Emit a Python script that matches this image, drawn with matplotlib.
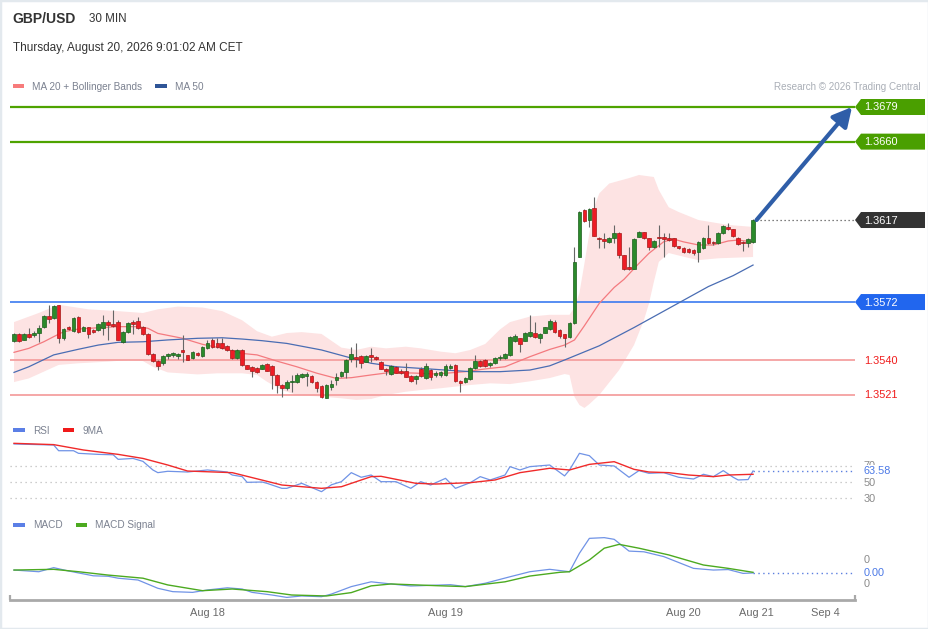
import numpy as np
import matplotlib
matplotlib.use("Agg")
import matplotlib.pyplot as plt
from matplotlib.patches import Rectangle, Polygon

plt.rcParams['font.family'] = ['Liberation Sans', 'DejaVu Sans']

# ---------------------------------------------------------------- data
symbol = "GBP/USD"
timeframe = "30 MIN"
timestamp = "Thursday, August 20, 2026 9:01:02 AM CET"
credit = "Research \u00a9 2026 Trading Central"

opens = [1.35506, 1.35543, 1.35512, 1.35543, 1.35539, 1.35548, 1.35585, 1.35645, 1.35630, 1.35704,
         1.35524, 1.35585, 1.35561, 1.35638, 1.35563, 1.35581, 1.35566, 1.35565, 1.35579, 1.35612,
         1.35601, 1.35612, 1.35502, 1.35554, 1.35609, 1.35616, 1.35585, 1.35543, 1.35437, 1.35396,
         1.35384, 1.35422, 1.35429, 1.35426, 1.35455, 1.35428, 1.35411, 1.35442, 1.35426, 1.35470,
         1.35510, 1.35497, 1.35493, 1.35479, 1.35457, 1.35415, 1.35455, 1.35373, 1.35365, 1.35358,
         1.35353, 1.35378, 1.35371, 1.35320, 1.35265, 1.35250, 1.35280, 1.35280, 1.35309, 1.35316,
         1.35314, 1.35280, 1.35261, 1.35195, 1.35256, 1.35292, 1.35316, 1.35334, 1.35407, 1.35418,
         1.35424, 1.35393, 1.35430, 1.35418, 1.35393, 1.35353, 1.35325, 1.35365, 1.35344, 1.35342,
         1.35314, 1.35296, 1.35351, 1.35305, 1.35347, 1.35320, 1.35320, 1.35320, 1.35356, 1.35375,
         1.35287, 1.35280, 1.35298, 1.35360, 1.35397, 1.35402, 1.35375, 1.35384, 1.35411, 1.35411,
         1.35430, 1.35508, 1.35521, 1.35508, 1.35536, 1.35548, 1.35521, 1.35552, 1.35570, 1.35612,
         1.35567, 1.35543, 1.35526, 1.35603, 1.35969, 1.36225, 1.36170, 1.36234, 1.36073, 1.36064,
         1.36051, 1.36073, 1.36100, 1.35978, 1.35910, 1.35903, 1.36079, 1.36102, 1.36069, 1.36020,
         1.36079, 1.36079, 1.36069, 1.36069, 1.36027, 1.36015, 1.36009, 1.36005, 1.35996, 1.36015,
         1.36073, 1.36051, 1.36042, 1.36100, 1.36133, 1.36119, 1.36073, 1.36051, 1.36042, 1.36051]

closes = [1.35543, 1.35506, 1.35543, 1.35530, 1.35552, 1.35579, 1.35645, 1.35627, 1.35700, 1.35524,
          1.35572, 1.35570, 1.35631, 1.35557, 1.35583, 1.35545, 1.35554, 1.35601, 1.35612, 1.35594,
          1.35590, 1.35512, 1.35554, 1.35603, 1.35601, 1.35576, 1.35543, 1.35437, 1.35396, 1.35371,
          1.35424, 1.35433, 1.35439, 1.35437, 1.35444, 1.35402, 1.35446, 1.35431, 1.35475, 1.35497,
          1.35475, 1.35475, 1.35470, 1.35457, 1.35415, 1.35457, 1.35375, 1.35353, 1.35342, 1.35334,
          1.35375, 1.35342, 1.35320, 1.35265, 1.35247, 1.35280, 1.35287, 1.35320, 1.35323, 1.35323,
          1.35280, 1.35247, 1.35201, 1.35265, 1.35270, 1.35311, 1.35334, 1.35402, 1.35433, 1.35407,
          1.35387, 1.35424, 1.35418, 1.35407, 1.35353, 1.35342, 1.35369, 1.35332, 1.35329, 1.35311,
          1.35287, 1.35316, 1.35316, 1.35369, 1.35311, 1.35332, 1.35334, 1.35371, 1.35371, 1.35287,
          1.35274, 1.35301, 1.35360, 1.35397, 1.35371, 1.35369, 1.35384, 1.35411, 1.35418, 1.35433,
          1.35530, 1.35536, 1.35490, 1.35552, 1.35557, 1.35530, 1.35545, 1.35581, 1.35618, 1.35557,
          1.35534, 1.35521, 1.35603, 1.35941, 1.36212, 1.36166, 1.36230, 1.36082, 1.36064, 1.36057,
          1.36073, 1.36097, 1.35978, 1.35899, 1.35899, 1.36064, 1.36106, 1.36069, 1.36024, 1.36057,
          1.36069, 1.36064, 1.36060, 1.36027, 1.36015, 1.35996, 1.35996, 1.35987, 1.36051, 1.36069,
          1.36042, 1.36042, 1.36100, 1.36137, 1.36119, 1.36082, 1.36038, 1.36042, 1.36064, 1.36170]

highs = [1.35550, 1.35550, 1.35550, 1.35576, 1.35560, 1.35594, 1.35650, 1.35704, 1.35704, 1.35706,
         1.35580, 1.35590, 1.35640, 1.35645, 1.35590, 1.35585, 1.35570, 1.35605, 1.35649, 1.35620,
         1.35676, 1.35620, 1.35560, 1.35610, 1.35621, 1.35640, 1.35590, 1.35550, 1.35440, 1.35400,
         1.35430, 1.35440, 1.35445, 1.35440, 1.35539, 1.35430, 1.35450, 1.35445, 1.35480, 1.35510,
         1.35520, 1.35520, 1.35520, 1.35485, 1.35460, 1.35460, 1.35460, 1.35375, 1.35370, 1.35365,
         1.35380, 1.35385, 1.35375, 1.35325, 1.35270, 1.35290, 1.35320, 1.35330, 1.35330, 1.35338,
         1.35320, 1.35285, 1.35265, 1.35270, 1.35292, 1.35329, 1.35340, 1.35405, 1.35475, 1.35493,
         1.35430, 1.35430, 1.35466, 1.35425, 1.35398, 1.35356, 1.35375, 1.35370, 1.35350, 1.35384,
         1.35318, 1.35320, 1.35365, 1.35385, 1.35350, 1.35340, 1.35340, 1.35380, 1.35380, 1.35380,
         1.35290, 1.35310, 1.35365, 1.35430, 1.35400, 1.35405, 1.35390, 1.35420, 1.35430, 1.35440,
         1.35535, 1.35545, 1.35525, 1.35555, 1.35649, 1.35612, 1.35550, 1.35585, 1.35625, 1.35620,
         1.35570, 1.35545, 1.35610, 1.36020, 1.36220, 1.36230, 1.36234, 1.36294, 1.36078, 1.36100,
         1.36078, 1.36143, 1.36105, 1.35980, 1.36024, 1.36070, 1.36110, 1.36106, 1.36073, 1.36060,
         1.36143, 1.36097, 1.36097, 1.36073, 1.36030, 1.36020, 1.36015, 1.36010, 1.36055, 1.36075,
         1.36143, 1.36055, 1.36105, 1.36140, 1.36152, 1.36123, 1.36078, 1.36055, 1.36070, 1.36175]

lows = [1.35500, 1.35500, 1.35510, 1.35525, 1.35530, 1.35500, 1.35580, 1.35603, 1.35625, 1.35493,
        1.35510, 1.35565, 1.35555, 1.35550, 1.35560, 1.35520, 1.35550, 1.35560, 1.35539, 1.35512,
        1.35585, 1.35510, 1.35495, 1.35550, 1.35543, 1.35570, 1.35540, 1.35430, 1.35390, 1.35347,
        1.35375, 1.35410, 1.35420, 1.35410, 1.35393, 1.35400, 1.35405, 1.35425, 1.35420, 1.35465,
        1.35470, 1.35470, 1.35465, 1.35450, 1.35410, 1.35410, 1.35370, 1.35350, 1.35310, 1.35330,
        1.35350, 1.35340, 1.35243, 1.35219, 1.35201, 1.35240, 1.35228, 1.35275, 1.35305, 1.35260,
        1.35275, 1.35225, 1.35195, 1.35192, 1.35237, 1.35265, 1.35310, 1.35301, 1.35393, 1.35365,
        1.35356, 1.35390, 1.35393, 1.35400, 1.35350, 1.35320, 1.35320, 1.35330, 1.35325, 1.35308,
        1.35280, 1.35270, 1.35310, 1.35300, 1.35290, 1.35310, 1.35310, 1.35315, 1.35350, 1.35280,
        1.35228, 1.35275, 1.35295, 1.35355, 1.35365, 1.35365, 1.35365, 1.35380, 1.35400, 1.35405,
        1.35425, 1.35500, 1.35446, 1.35505, 1.35530, 1.35525, 1.35494, 1.35548, 1.35565, 1.35550,
        1.35521, 1.35475, 1.35520, 1.35600, 1.35965, 1.36160, 1.36133, 1.36080, 1.36015, 1.36015,
        1.36045, 1.36042, 1.35960, 1.35895, 1.35896, 1.35900, 1.36075, 1.36065, 1.36005, 1.36015,
        1.36024, 1.35969, 1.36055, 1.36020, 1.36010, 1.35987, 1.35990, 1.35980, 1.35941, 1.36010,
        1.36038, 1.36033, 1.36038, 1.36095, 1.36115, 1.36078, 1.36033, 1.36000, 1.36024, 1.36045]

# moving averages / bands, read at candle indices
ma20_idx = [0, 3, 6, 8, 10, 13, 17, 21, 25, 27, 29, 34, 38, 42, 46, 49, 53, 57, 61, 65,
            68, 72, 76, 81, 85, 91, 95, 99, 104, 108, 111, 113, 115, 118, 121, 123, 126, 128, 131, 133,
            135, 138, 141, 144, 146, 149]
ma20_val = [1.35444, 1.35466, 1.35502, 1.35530, 1.35557, 1.35572, 1.35579, 1.35585, 1.35585, 1.35576,
            1.35548, 1.35521, 1.35488, 1.35466, 1.35438, 1.35430, 1.35396, 1.35365, 1.35330, 1.35301,
            1.35305, 1.35320, 1.35334, 1.35330, 1.35325, 1.35338, 1.35353, 1.35365, 1.35420, 1.35460,
            1.35484, 1.35512, 1.35590, 1.35713, 1.35800, 1.35845, 1.35932, 1.35987, 1.36051, 1.36065,
            1.36050, 1.36033, 1.36033, 1.36055, 1.36060, 1.36050]

ma50_idx = [0, 3, 8, 13, 17, 21, 26, 31, 37, 42, 46, 50, 55, 62, 67, 72, 77, 82, 88, 92,
            98, 104, 108, 111, 118, 125, 131, 135, 140, 145, 149]
ma50_val = [1.35334, 1.35365, 1.35430, 1.35461, 1.35484, 1.35499, 1.35502, 1.35512, 1.35521, 1.35524,
            1.35517, 1.35508, 1.35493, 1.35457, 1.35420, 1.35384, 1.35365, 1.35356, 1.35345, 1.35338,
            1.35338, 1.35347, 1.35370, 1.35402, 1.35480, 1.35580, 1.35670, 1.35730, 1.35805, 1.35865,
            1.35923]

bb_up_idx = [0, 5, 9, 15, 21, 26, 29, 33, 38, 42, 46, 49, 52, 55, 58, 62, 66, 69, 72, 75,
             79, 82, 86, 89, 92, 95, 98, 100, 104, 108, 112, 113, 114, 115, 116, 117, 118, 120, 124, 126,
             129, 130, 132, 134, 138, 144, 149]
bb_up_val = [1.35610, 1.35660, 1.35705, 1.35680, 1.35670, 1.35660, 1.35680, 1.35695, 1.35690, 1.35670,
             1.35620, 1.35560, 1.35530, 1.35550, 1.35555, 1.35545, 1.35470, 1.35457, 1.35475, 1.35466,
             1.35475, 1.35466, 1.35448, 1.35439, 1.35457, 1.35490, 1.35570, 1.35610, 1.35640, 1.35650,
             1.35650, 1.35690, 1.35770, 1.35930, 1.36097, 1.36243, 1.36316, 1.36370, 1.36400, 1.36417,
             1.36406, 1.36335, 1.36240, 1.36214, 1.36170, 1.36143, 1.36132]

bb_lo_idx = [0, 3, 6, 9, 13, 19, 23, 26, 28, 31, 37, 41, 46, 49, 51, 54, 57, 62, 66, 69,
             72, 75, 79, 82, 86, 89, 92, 96, 100, 104, 108, 111, 112, 113, 114, 115, 116, 118, 122, 125,
             127, 128, 129, 130, 132, 136, 138, 142, 149]
bb_lo_val = [1.35281, 1.35301, 1.35338, 1.35375, 1.35384, 1.35393, 1.35402, 1.35396, 1.35365, 1.35334,
             1.35323, 1.35329, 1.35329, 1.35320, 1.35283, 1.35237, 1.35210, 1.35201, 1.35192, 1.35183,
             1.35188, 1.35210, 1.35228, 1.35237, 1.35247, 1.35256, 1.35265, 1.35274, 1.35270, 1.35285,
             1.35303, 1.35325, 1.35320, 1.35200, 1.35155, 1.35139, 1.35160, 1.35210, 1.35347, 1.35484,
             1.35621, 1.35710, 1.35830, 1.35940, 1.35989, 1.35962, 1.35950, 1.35960, 1.35967]

resistance_levels = [1.3679, 1.3660]
pivot_level = 1.3572
support_levels = [1.3540, 1.3521]
target_level = 1.3679

# RSI panel
rsi_idx = [0, 8, 9, 12, 13, 17, 20, 21, 24, 26, 28, 29, 31, 35, 39, 43, 44, 46, 47, 50,
           51, 54, 55, 58, 62, 64, 66, 68, 70, 72, 74, 77, 80, 82, 84, 87, 89, 92, 94, 96,
           99, 100, 102, 104, 108, 111, 112, 114, 116, 118, 121, 124, 126, 128, 131, 134, 137, 139, 141, 143,
           145, 146, 148, 149]
rsi_val = [96.8, 95.5, 88.5, 88.5, 85.3, 84.0, 83.5, 77.9, 79.0, 75.4, 64.8, 61.5, 63.2, 62.3, 64.8, 62.3, 58.6, 56.6, 49.6, 50.0,
           48.4, 42.2, 42.2, 48.4, 38.1, 46.6, 50.4, 61.5, 55.8, 58.6, 50.4, 50.4, 42.2, 50.4, 46.3, 54.5, 42.2, 49.2, 56.6, 52.5,
           58.6, 68.9, 64.8, 68.9, 70.9, 57.5, 64.8, 85.3, 82.4, 70.9, 69.7, 55.8, 64.0, 60.7, 61.5, 55.8, 53.7, 59.5, 56.6, 64.0,
           55.8, 52.5, 53.0, 63.58]
rsi_ma_idx = [0, 8, 14, 21, 26, 31, 35, 44, 54, 62, 66, 72, 74, 81, 85, 92, 97, 102, 108, 112,
              116, 121, 125, 128, 132, 136, 141, 144, 149]
rsi_ma_val = [97.6, 96.0, 89.4, 84.0, 79.0, 70.9, 63.5, 61.5, 46.3, 42.2, 44.2, 56.6, 57.0, 48.4, 47.5, 49.2, 52.5, 61.5, 66.9, 64.8,
              71.7, 75.0, 65.6, 62.3, 61.5, 58.6, 56.6, 58.6, 59.5]
rsi_levels = [70, 50, 30]

# MACD panel
macd_idx = [0, 5, 8, 11, 16, 19, 21, 25, 29, 32, 36, 39, 43, 46, 48, 52, 55, 58, 62, 64,
            68, 72, 76, 80, 88, 91, 95, 100, 104, 108, 112, 114, 116, 119, 121, 124, 127, 131, 137, 141,
            144, 147, 149]
macd_val = [0.00014, 0.00007, 0.00024, 0.00010, -0.00010, -0.00012, -0.00020, -0.000275, -0.00062, -0.00076,
            -0.00079, -0.00069, -0.00060, -0.00065, -0.00079, -0.00090, -0.00100, -0.00094, -0.00097, -0.00086,
            -0.00055, -0.00035, -0.00044, -0.000525, -0.00047, -0.00055, -0.00041, -0.00014, 0.00007, 0.00017,
            0.00007, 0.00084, 0.00146, 0.00149, 0.00142, 0.00093, 0.00090, 0.00070, 0.00021, 0.00014,
            0.00016, 0.00000, 0.00002]
signal_idx = [0, 8, 13, 19, 26, 31, 38, 44, 51, 56, 63, 68, 72, 76, 85, 91, 99, 104, 110, 112,
              116, 119, 122, 126, 132, 139, 144, 149]
signal_val = [0.00014, 0.00017, 0.00007, -0.00007, -0.00020, -0.00048, -0.00072, -0.00065, -0.00076, -0.00090,
              -0.00094, -0.00080, -0.00052, -0.00044, -0.00051, -0.00055, -0.00035, -0.00011, 0.000045, 0.00007,
              0.00056, 0.00105, 0.00121, 0.00105, 0.00077, 0.00035, 0.00021, 0.000045]
macd_ticks = [0.0006, -0.0004]
macd_tick_labels = ["0", "0"]
macd_last_label = "0.00"

date_labels = ["Aug 18", "Aug 19", "Aug 20", "Aug 21", "Sep 4"]
date_pos = [39, 87, 135, 149.6, 163.5]

# ---------------------------------------------------------------- layout
W, H = 929, 629
fig = plt.figure(figsize=(W / 100, H / 100), dpi=100)
fig.patch.set_facecolor('white')


def px_rect(x0, y0, x1, y1):
    return [x0 / W, 1 - y1 / H, (x1 - x0) / W, (y1 - y0) / H]


step = 4.96           # px per candle
first_px = 14.0       # px of first candle
XL, XR = 10, 855
xlim = ((XL - first_px) / step, (XR - first_px) / step)

k = (1.3679 - 1.3521) / 288.0
price_ylim = (1.3679 - (410 - 107) * k, 1.3679 + (107 - 100) * k)

ax_p = fig.add_axes(px_rect(XL, 100, XR, 410))
ax_r = fig.add_axes(px_rect(XL, 440, XR, 505))
ax_m = fig.add_axes(px_rect(XL, 535, XR, 600))
for a in (ax_p, ax_r, ax_m):
    a.set_xlim(*xlim)
    a.patch.set_alpha(0)
    for s in a.spines.values():
        s.set_visible(False)
    a.set_yticks([])
    a.set_xticks([])
ax_p.set_ylim(*price_ylim)
ax_r.set_ylim(50 - 23 / 0.8125, 50 + 42 / 0.8125)
ax_m.set_ylim(-0.001108, 0.0016)

ov = fig.add_axes([0, 0, 1, 1])
ov.set_xlim(0, W)
ov.set_ylim(H, 0)
ov.axis('off')


def ypx(ax, v):
    return H - ax.transData.transform((0, v))[1]


# ---------------------------------------------------------------- price panel
idx = np.arange(len(closes))
o = np.array(opens); c = np.array(closes)
hi = np.array(highs); lo = np.array(lows)

band_x = np.r_[bb_up_idx, bb_lo_idx[::-1]]
band_y = np.r_[bb_up_val, bb_lo_val[::-1]]
ax_p.fill(band_x, band_y, color='#fde3e3', lw=0, zorder=1)

for v in resistance_levels:
    ax_p.axhline(v, color='#4ea300', lw=1.6, zorder=2)
ax_p.axhline(pivot_level, color='#3b7af0', lw=1.2, zorder=2)
for v in support_levels:
    ax_p.axhline(v, color='#f5a0a0', lw=1.3, zorder=2)

ax_p.plot(ma20_idx, ma20_val, color='#f47a7f', lw=0.9, zorder=3)
ax_p.plot(ma50_idx, ma50_val, color='#4a6db3', lw=0.9, zorder=3)

up = c >= o
ax_p.vlines(idx, lo, hi, color='#666666', lw=0.8, zorder=4)
ax_p.bar(idx, np.maximum(np.abs(c - o), 0.00005), bottom=np.minimum(o, c), width=0.74,
         color=np.where(up, '#2b8a2b', '#ee1c25'),
         edgecolor=np.where(up, '#1c5e1c', '#a51818'), linewidth=0.5, zorder=5)

ax_p.plot([idx[-1] + 0.6, xlim[1]], [closes[-1]] * 2, color='#555555', lw=0.9,
          ls=(0, (1, 2.2)), zorder=3)

ax_p.annotate('', xy=((852 - first_px) / step, target_level),
              xytext=(idx[-1] + 0.7, closes[-1]),
              arrowprops=dict(arrowstyle='-|>,head_length=0.95,head_width=0.5',
                              color='#2f5ea8', lw=3.0, shrinkA=0, shrinkB=0,
                              mutation_scale=12),
              annotation_clip=False, zorder=6)


def price_box(yp, text, fc):
    ov.add_patch(Polygon([(855, yp), (861, yp - 8), (925, yp - 8), (925, yp + 8), (861, yp + 8)],
                         closed=True, fc=fc, ec='none'))
    ov.text(864, yp + 0.5, text, color='white', fontsize=7.9, va='center', ha='left')


for v in resistance_levels:
    price_box(ypx(ax_p, v), f"{v:.4f}", '#4a9f00')
price_box(ypx(ax_p, closes[-1]), f"{closes[-1]:.4f}", '#333333')
price_box(ypx(ax_p, pivot_level), f"{pivot_level:.4f}", '#2166ee')
for v in support_levels:
    ov.text(864, ypx(ax_p, v) + 0.5, f"{v:.4f}", color='#f01c1c', fontsize=7.9,
            va='center', ha='left')

# ---------------------------------------------------------------- RSI panel
for v in rsi_levels:
    ax_r.axhline(v, color='#bdbdbd', lw=0.9, ls=(0, (1, 3)))
ax_r.plot(rsi_idx, rsi_val, color='#7093e6', lw=0.9)
ax_r.plot(rsi_ma_idx, rsi_ma_val, color='#f02a2a', lw=1.0)
ax_r.plot([rsi_idx[-1], xlim[1]], [rsi_val[-1]] * 2, color='#5b7fe0', lw=1.0, ls=(0, (1, 2.5)))

for v in rsi_levels:
    ov.text(864, ypx(ax_r, v) + 0.5, f"{v}", color='#8a8a8a', fontsize=7.8, va='center', ha='left')
ov.text(864, ypx(ax_r, rsi_val[-1]) + 0.5, f"{rsi_val[-1]:.2f}", color='#4a78e6', fontsize=7.8,
        va='center', ha='left',
        bbox=dict(boxstyle='square,pad=0.12', fc='white', ec='none'))

# ---------------------------------------------------------------- MACD panel
ax_m.plot(macd_idx, macd_val, color='#7093e6', lw=0.9)
ax_m.plot(signal_idx, signal_val, color='#4caa20', lw=1.0)
ax_m.plot([macd_idx[-1], xlim[1]], [macd_val[-1]] * 2, color='#5b7fe0', lw=1.0, ls=(0, (1, 2.5)))
for v, t in zip(macd_ticks, macd_tick_labels):
    ov.text(864, ypx(ax_m, v) + 0.5, t, color='#8a8a8a', fontsize=7.8, va='center', ha='left')
ov.text(864, ypx(ax_m, macd_val[-1]) + 0.5, macd_last_label, color='#4a78e6', fontsize=7.8,
        va='center', ha='left')

# x axis
ax_m.spines['bottom'].set_visible(True)
ax_m.spines['bottom'].set_color('#a9a9a9')
ax_m.spines['bottom'].set_linewidth(2)
ax_m.set_xticks(date_pos)
ax_m.set_xticklabels(date_labels, fontsize=7.9, color='#6a6a6a')
ax_m.tick_params(axis='x', length=0, pad=6)
for xa in (0, 1):
    ax_m.plot([xa, xa], [0, 0.08], transform=ax_m.transAxes, color='#a9a9a9', lw=1.6,
              clip_on=False, solid_capstyle='butt')

# ---------------------------------------------------------------- header & legends
ov.text(12, 19, symbol, fontsize=10, fontweight='bold', color='#333333', va='center', ha='left')
ov.text(89, 19, timeframe, fontsize=8.4, color='#333333', va='center', ha='left')
ov.text(13, 48.5, timestamp, fontsize=8.5, color='#333333', va='center', ha='left')


def legend_item(x, y, color, label):
    ov.add_patch(Rectangle((x, y - 2.2), 11.5, 4.4, fc=color, ec='none'))
    ov.text(x + 19.5, y + 0.5, label, fontsize=7.2, color='#7b8190', va='center', ha='left')


legend_item(13, 86, '#f77b7b', "MA 20 + Bollinger Bands")
legend_item(155.5, 86, '#2f5597', "MA 50")
ov.text(921, 86.5, credit, fontsize=7.1, color='#a9aeb6', va='center', ha='right')

legend_item(13.5, 430, '#5b7fe6', "RSI")
legend_item(63, 430, '#f01a1a', "9MA")
legend_item(13.5, 525, '#5b7fe6', "MACD")
legend_item(76, 525, '#4caa20', "MACD Signal")

# light frame
fig.patches.append(Rectangle((0, 0), 1, 1, transform=fig.transFigure, fill=False,
                             ec='#e3e9ee', lw=2.5))

fig.savefig('out.png', dpi=100, facecolor='white')
